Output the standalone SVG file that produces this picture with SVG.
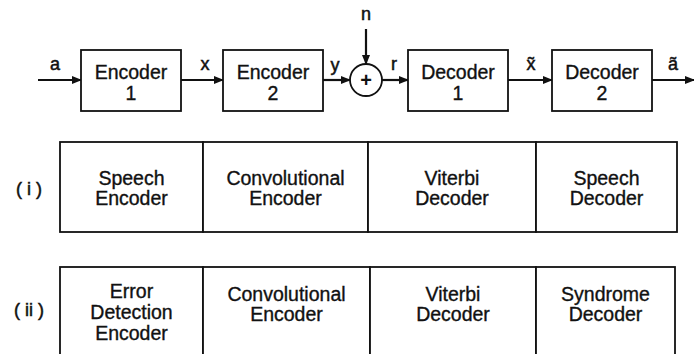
<svg xmlns="http://www.w3.org/2000/svg" width="694" height="354" viewBox="0 0 694 354">
<defs>
<marker id="ah" markerWidth="10" markerHeight="8" refX="9" refY="4" orient="auto" markerUnits="userSpaceOnUse">
<path d="M0,0 L10,4 L0,8 Z" fill="#111"/>
</marker>
</defs>
<style>
.box{fill:#fff;stroke:#111;stroke-width:1.8}
.t{font-family:"Liberation Sans",Arial,sans-serif;font-size:19.5px;fill:#111;stroke:#111;stroke-width:0.35;text-anchor:middle}
.l{font-family:"Liberation Sans",Arial,sans-serif;font-size:18px;fill:#111;stroke:#111;stroke-width:0.5;text-anchor:middle}
.c{stroke:#111;stroke-width:2.2;fill:none}
</style>
<rect width="694" height="354" fill="#fff"/>
<g id="connectors">
<line class="c" x1="38" y1="80" x2="81" y2="80" marker-end="url(#ah)"/>
<line class="c" x1="181" y1="80" x2="223" y2="80" marker-end="url(#ah)"/>
<line class="c" x1="323" y1="80" x2="350" y2="80" marker-end="url(#ah)"/>
<line class="c" x1="366" y1="29" x2="366" y2="64" marker-end="url(#ah)"/>
<line class="c" x1="382" y1="80" x2="408" y2="80" marker-end="url(#ah)"/>
<line class="c" x1="508" y1="80" x2="552" y2="80" marker-end="url(#ah)"/>
<line class="c" x1="652" y1="80" x2="694" y2="80" marker-end="url(#ah)"/>
<text class="l" x="55" y="70">a</text>
<text class="l" x="205" y="70">x</text>
<text class="l" x="335" y="71">y</text>
<text class="l" x="366" y="20">n</text>
<text class="l" x="394" y="70">r</text>
<text class="l" x="531" y="70">x̃</text>
<text class="l" x="673" y="70">ã</text>
</g>
<g id="enc1"><rect class="box" x="81" y="50" width="100" height="61"/><text class="t" x="131" y="79">Encoder</text><text class="t" x="131" y="100">1</text></g>
<g id="enc2"><rect class="box" x="223" y="50" width="100" height="61"/><text class="t" x="273" y="79">Encoder</text><text class="t" x="273" y="100">2</text></g>
<g id="sum"><circle cx="366" cy="80" r="16" fill="#fff" stroke="#111" stroke-width="1.8"/><text x="366" y="87" font-family="Liberation Sans,Arial,sans-serif" font-size="20" font-weight="bold" text-anchor="middle" fill="#111">+</text></g>
<g id="dec1"><rect class="box" x="408" y="50" width="100" height="61"/><text class="t" x="458" y="79">Decoder</text><text class="t" x="458" y="100">1</text></g>
<g id="dec2"><rect class="box" x="552" y="50" width="100" height="61"/><text class="t" x="602" y="79">Decoder</text><text class="t" x="602" y="100">2</text></g>

<text class="l" x="29" y="195" font-size="19">( i )</text>
<g id="r1c1"><rect class="box" x="60" y="142" width="143" height="90"/><text class="t" x="131.5" y="185">Speech</text><text class="t" x="131.5" y="205">Encoder</text></g>
<g id="r1c2"><rect class="box" x="203" y="142" width="165" height="90"/><text class="t" x="285.5" y="185">Convolutional</text><text class="t" x="285.5" y="205">Encoder</text></g>
<g id="r1c3"><rect class="box" x="368" y="142" width="168" height="90"/><text class="t" x="452" y="185">Viterbi</text><text class="t" x="452" y="205">Decoder</text></g>
<g id="r1c4"><rect class="box" x="536" y="142" width="141" height="90"/><text class="t" x="606.5" y="185">Speech</text><text class="t" x="606.5" y="205">Decoder</text></g>

<text class="l" x="29" y="316" font-size="19">( ii )</text>
<g id="r2c1"><rect class="box" x="60" y="267" width="143" height="92"/><text class="t" x="131.5" y="298">Error</text><text class="t" x="131.5" y="319">Detection</text><text class="t" x="131.5" y="340">Encoder</text></g>
<g id="r2c2"><rect class="box" x="203" y="267" width="167" height="92"/><text class="t" x="286.5" y="301">Convolutional</text><text class="t" x="286.5" y="321">Encoder</text></g>
<g id="r2c3"><rect class="box" x="370" y="267" width="166" height="92"/><text class="t" x="453" y="301">Viterbi</text><text class="t" x="453" y="321">Decoder</text></g>
<g id="r2c4"><rect class="box" x="536" y="267" width="139" height="92"/><text class="t" x="605.5" y="301">Syndrome</text><text class="t" x="605.5" y="321">Decoder</text></g>
</svg>
